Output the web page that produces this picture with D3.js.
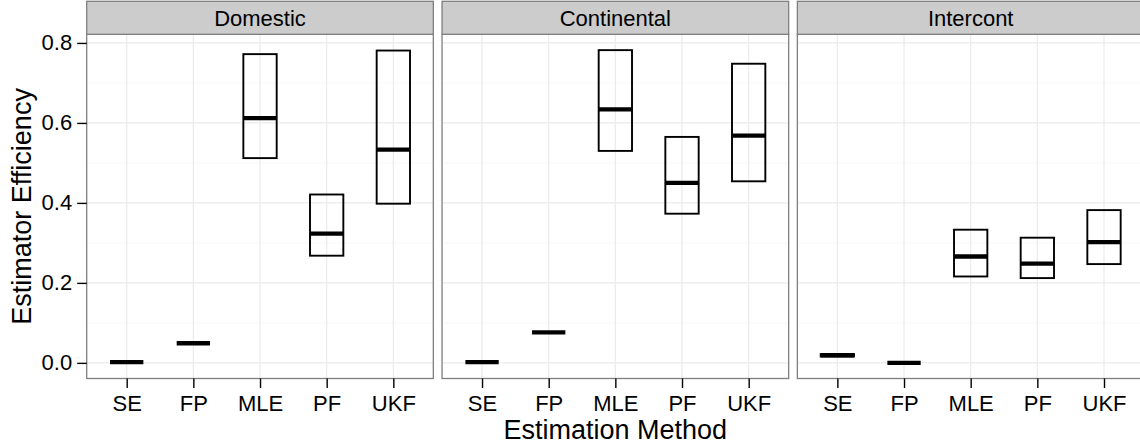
<!DOCTYPE html>
<html>
<head>
<meta charset="utf-8">
<script src="https://cdn.jsdelivr.net/npm/d3@7"></script>
<style>
  html, body { margin: 0; padding: 0; background: #ffffff; }
  svg { display: block; font-family: "Liberation Sans", Arial, Helvetica, sans-serif; }
</style>
</head>
<body>
<svg id="chart" width="1140" height="448"></svg>
<script>
// Estimator efficiency by method, faceted by route type
const panels = ["Domestic", "Continental", "Intercont"];
const methods = ["SE", "FP", "MLE", "PF", "UKF"];

// crossbar values per panel, in method order
const domesticLower  = [0.002, 0.049, 0.512, 0.268, 0.398];
const domesticMid    = [0.002, 0.049, 0.612, 0.323, 0.533];
const domesticUpper  = [0.002, 0.049, 0.772, 0.421, 0.781];

const continentalLower = [0.002, 0.076, 0.530, 0.373, 0.454];
const continentalMid   = [0.002, 0.076, 0.634, 0.450, 0.568];
const continentalUpper = [0.002, 0.076, 0.782, 0.565, 0.748];

const intercontLower = [0.016, 0.000, 0.216, 0.212, 0.247];
const intercontMid   = [0.019, 0.000, 0.266, 0.248, 0.302];
const intercontUpper = [0.022, 0.000, 0.333, 0.313, 0.382];

const yTicks = [0.0, 0.2, 0.4, 0.6, 0.8];
const yMinorTicks = [0.1, 0.3, 0.5, 0.7];

const seriesByPanel = {
  Domestic:    [domesticLower, domesticMid, domesticUpper],
  Continental: [continentalLower, continentalMid, continentalUpper],
  Intercont:   [intercontLower, intercontMid, intercontUpper]
};

const svg = d3.select("#chart");

// layout
const plotLeft = 86.7, plotRight = 1144, gap = 8.7;
const stripTop = 1.3, stripBottom = 34.3, panelBottom = 378.5;
const panelW = (plotRight - plotLeft - gap * (panels.length - 1)) / panels.length;

const y = d3.scaleLinear().domain([-0.0391, 0.8216]).range([panelBottom, stripBottom]);

const GRID_MAJOR = "#ebebeb", GRID_MINOR = "#fafafa", BORDER = "#7f7f7f";

panels.forEach((name, pi) => {
  const x0 = plotLeft + pi * (panelW + gap);
  const x = d3.scalePoint().domain(methods).range([x0, x0 + panelW]).padding(0.6);
  const step = x.step();
  const g = svg.append("g");

  // panel background
  g.append("rect").attr("x", x0).attr("y", stripBottom)
    .attr("width", panelW).attr("height", panelBottom - stripBottom).attr("fill", "#ffffff");

  // minor grid
  g.selectAll(".minor").data(yMinorTicks).join("line")
    .attr("x1", x0).attr("x2", x0 + panelW)
    .attr("y1", d => y(d)).attr("y2", d => y(d))
    .attr("stroke", GRID_MINOR).attr("stroke-width", 1.1);

  // major grid
  g.selectAll(".hmajor").data(yTicks).join("line")
    .attr("x1", x0).attr("x2", x0 + panelW)
    .attr("y1", d => y(d)).attr("y2", d => y(d))
    .attr("stroke", GRID_MAJOR).attr("stroke-width", 1.2);
  g.selectAll(".vmajor").data(methods).join("line")
    .attr("x1", d => x(d)).attr("x2", d => x(d))
    .attr("y1", stripBottom).attr("y2", panelBottom)
    .attr("stroke", GRID_MAJOR).attr("stroke-width", 1.2);

  // crossbars
  const [lo, mid, hi] = seriesByPanel[name];
  const rows = methods.map((m, i) => ({ m, lo: lo[i], mid: mid[i], hi: hi[i] }));
  const bw = step * 0.5;

  g.selectAll(".box").data(rows).join("rect")
    .attr("x", d => x(d.m) - bw / 2)
    .attr("y", d => y(d.hi))
    .attr("width", bw)
    .attr("height", d => y(d.lo) - y(d.hi))
    .attr("fill", "none").attr("stroke", "#000").attr("stroke-width", 1.9);

  g.selectAll(".median").data(rows).join("line")
    .attr("x1", d => x(d.m) - bw / 2).attr("x2", d => x(d.m) + bw / 2)
    .attr("y1", d => y(d.mid)).attr("y2", d => y(d.mid))
    .attr("stroke", "#000").attr("stroke-width", 4.3);

  // panel border
  g.append("rect").attr("x", x0).attr("y", stripBottom)
    .attr("width", panelW).attr("height", panelBottom - stripBottom)
    .attr("fill", "none").attr("stroke", BORDER).attr("stroke-width", 1.3);

  // strip
  g.append("rect").attr("x", x0).attr("y", stripTop)
    .attr("width", panelW).attr("height", stripBottom - stripTop)
    .attr("fill", "#cccccc").attr("stroke", BORDER).attr("stroke-width", 1.3);
  g.append("text").attr("x", x0 + panelW / 2).attr("y", 26)
    .attr("text-anchor", "middle").attr("font-size", 22).attr("fill", "#000")
    .text(name);

  // x axis
  const xAxis = d3.axisBottom(x).tickSize(9.5).tickPadding(7);
  const ax = g.append("g").attr("transform", `translate(0,${panelBottom})`).call(xAxis);
  ax.select(".domain").remove();
  ax.selectAll(".tick line").attr("stroke", "#000").attr("stroke-width", 1.4);
  ax.selectAll(".tick text").attr("font-size", 22).attr("fill", "#000")
    .attr("font-family", "Liberation Sans, Arial, sans-serif");
});

// y axis on first panel
const yAxis = d3.axisLeft(y).tickValues(yTicks).tickFormat(d3.format(".1f")).tickSize(9.5).tickPadding(5);
const ay = svg.append("g").attr("transform", `translate(${plotLeft},0)`).call(yAxis);
ay.select(".domain").remove();
ay.selectAll(".tick line").attr("stroke", "#000").attr("stroke-width", 1.4);
ay.selectAll(".tick text").attr("font-size", 22).attr("fill", "#000")
  .attr("font-family", "Liberation Sans, Arial, sans-serif");

// axis titles
svg.append("text").attr("x", (plotLeft + plotRight) / 2).attr("y", 439)
  .attr("text-anchor", "middle").attr("font-size", 27).attr("fill", "#000")
  .text("Estimation Method");
svg.append("text")
  .attr("transform", `translate(31,${(stripBottom + panelBottom) / 2}) rotate(-90)`)
  .attr("text-anchor", "middle").attr("font-size", 27).attr("fill", "#000")
  .text("Estimator Efficiency");
</script>
</body>
</html>
